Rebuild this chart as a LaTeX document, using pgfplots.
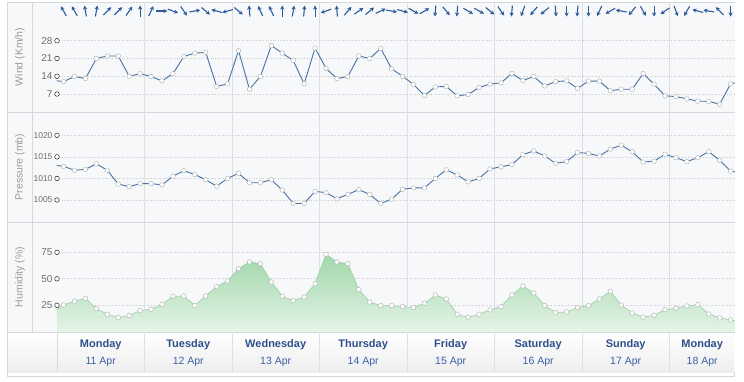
\documentclass[border=0pt]{standalone}
\usepackage{pgfplots}
\pgfplotsset{compat=1.18}
\usepackage{pgfplotstable}
\usepackage{fontspec}
\setmainfont{Liberation Sans}
\usetikzlibrary{arrows.meta}
\definecolor{panelbg}{RGB}{247,248,250}
\definecolor{gridc}{RGB}{221,223,227}
\definecolor{borderc}{RGB}{214,216,220}
\definecolor{dotc}{RGB}{200,202,206}
\definecolor{linec}{RGB}{69,114,167}
\definecolor{arrowc}{RGB}{46,90,156}
\definecolor{tickc}{RGB}{110,110,110}
\definecolor{labc}{RGB}{155,155,155}
\definecolor{dayc}{RGB}{45,80,140}
\definecolor{datec}{RGB}{58,98,167}
\definecolor{humtop}{RGB}{160,215,170}
\definecolor{humbot}{RGB}{229,244,231}
\definecolor{humline}{RGB}{150,208,160}
\definecolor{markc}{RGB}{185,185,185}

\pgfplotstableread{
x y
0 12.2
0.6 11.9
1.6 13.9
2.6 13.1
3.6 21.0
4.6 22.0
5.6 22.0
6.6 14.0
7.6 15.0
8.6 13.9
9.6 12.2
10.6 15.0
11.6 21.8
12.6 23.1
13.6 23.4
14.6 10.0
15.6 11.0
16.6 24.1
17.6 8.9
18.6 13.9
19.6 26.1
20.6 23.1
21.6 20.2
22.6 11.0
23.6 25.1
24.6 17.1
25.6 13.1
26.6 13.9
27.6 22.0
28.6 21.0
29.6 25.0
30.6 16.9
31.6 14.0
32.6 10.8
33.6 6.4
34.6 9.8
35.6 10.0
36.6 6.3
37.6 6.8
38.6 9.6
39.6 10.9
40.6 11.4
41.6 15.1
42.6 12.3
43.6 13.9
44.6 10.2
45.6 11.9
46.6 12.2
47.6 9.2
48.6 12.1
49.6 12.1
50.6 8.3
51.6 8.9
52.6 8.9
53.6 15.1
54.6 10.9
55.6 6.3
56.6 6.0
57.6 5.1
58.6 4.2
59.6 4.1
60.6 3.0
61.6 11.0
62 11.4
}\wind

\pgfplotstableread{
x y
0 1013.0
0.6 1012.8
1.6 1011.9
2.6 1012.1
3.6 1013.4
4.6 1011.9
5.6 1008.7
6.6 1008.1
7.6 1008.8
8.6 1008.8
9.6 1008.5
10.6 1010.5
11.6 1011.8
12.6 1010.9
13.6 1009.7
14.6 1008.2
15.6 1010.0
16.6 1011.2
17.6 1009.0
18.6 1009.0
19.6 1009.7
20.6 1007.3
21.6 1004.2
22.6 1004.2
23.6 1007.0
24.6 1006.7
25.6 1005.3
26.6 1006.3
27.6 1007.4
28.6 1006.3
29.6 1004.2
30.6 1005.2
31.6 1007.5
32.6 1007.8
33.6 1007.8
34.6 1010.0
35.6 1012.0
36.6 1010.8
37.6 1009.2
38.6 1010.0
39.6 1012.2
40.6 1012.7
41.6 1013.2
42.6 1015.5
43.6 1016.4
44.6 1015.2
45.6 1013.5
46.6 1013.9
47.6 1016.0
48.6 1015.8
49.6 1015.2
50.6 1016.8
51.6 1017.7
52.6 1016.2
53.6 1013.8
54.6 1014.0
55.6 1015.6
56.6 1014.8
57.6 1013.9
58.6 1014.8
59.6 1016.2
60.6 1014.2
61.6 1011.7
62 1011.5
}\press

\pgfplotstableread{
x y
0 21.2
0.6 25.3
1.6 28.8
2.6 31.6
3.6 21.9
4.6 16.5
5.6 13.4
6.6 15.3
7.6 20.0
8.6 21.2
9.6 25.9
10.6 33.5
11.6 33.8
12.6 24.7
13.6 33.8
14.6 42.6
15.6 48.0
16.6 59.6
17.6 65.9
18.6 64.3
19.6 47.0
20.6 33.5
21.6 29.4
22.6 32.9
23.6 45.4
24.6 73.1
25.6 65.9
26.6 64.3
27.6 39.9
28.6 28.0
29.6 24.7
30.6 24.7
31.6 23.7
32.6 22.8
33.6 26.9
34.6 34.7
35.6 31.0
36.6 16.5
37.6 13.7
38.6 16.5
39.6 20.6
40.6 23.7
41.6 34.7
42.6 43.2
43.6 36.6
44.6 24.7
45.6 18.1
46.6 18.7
47.6 22.8
48.6 24.7
49.6 31.0
50.6 38.2
51.6 25.3
52.6 17.8
53.6 13.7
54.6 15.6
55.6 20.9
56.6 22.2
57.6 24.4
58.6 25.6
59.6 16.8
60.6 13.1
61.6 11.2
62 10.2
}\hum

\pgfplotstableread{
x a
0.6 120
1.6 120
2.6 100
3.6 80
4.6 45
5.6 45
6.6 55
7.6 90
8.6 65
9.6 0
10.6 -20
11.6 -55
12.6 10
13.6 -40
14.6 165
15.6 195
16.6 -40
17.6 95
18.6 115
19.6 115
20.6 90
21.6 80
22.6 85
23.6 90
24.6 200
25.6 95
26.6 50
27.6 35
28.6 40
29.6 25
30.6 -10
31.6 -15
32.6 -30
33.6 30
34.6 -95
35.6 -50
36.6 -95
37.6 -30
38.6 -30
39.6 -40
40.6 -55
41.6 -95
42.6 -110
43.6 -130
44.6 -140
45.6 -85
46.6 -90
47.6 -95
48.6 -90
49.6 -115
50.6 -150
51.6 170
52.6 -130
53.6 -60
54.6 -90
55.6 -145
56.6 -70
57.6 -120
58.6 165
59.6 170
60.6 135
61.6 -90
}\dirs

\newcommand\daylab[2]{{\color{dayc}\bfseries\fontsize{11}{13}\selectfont #1}\\[5pt]{\color{datec}\fontsize{10.5}{13}\selectfont #2}}

\pgfplotsset{
  panel/.style={
    scale only axis, width=678pt, height=110pt,
    anchor=south west,
    xmin=0, xmax=62,
    axis line style={draw=none},
    major tick length=0pt,
    xtick={8,16,...,56}, xticklabels={},
    xmajorgrids,
    major x grid style={draw=gridc, line width=0.8pt},
    ymajorgrids,
    major y grid style={draw=dotc, dotted, line width=0.7pt},
    yticklabel style={font=\fontsize{10}{12}\selectfont, text=tickc, xshift=-1pt},
    ylabel style={font=\fontsize{10.5}{12}\selectfont, text=labc, at={(axis description cs:-0.0546,0.5)}, anchor=center},
    clip=false,
    /pgf/number format/assume math mode=true,
    /pgf/number format/1000 sep={},
  },
  dataline/.style={draw=linec, line width=0.9pt, no marks},
  datamarks/.style={only marks, mark=*, mark size=2.3pt, mark options={fill=white, draw=markc, line width=0.5pt}, restrict x to domain=0.3:61.9},
  tickdots/.style={only marks, mark=*, mark size=2.3pt, mark options={fill=white, draw=none}},
}

\begin{document}
\begin{tikzpicture}
% backgrounds and frame
\fill[panelbg] (7pt,-2pt) rectangle (735pt,-332pt);
\shade[top color=white, bottom color={rgb,255:red,238;green,238;blue,238}] (7pt,-332pt) rectangle (734pt,-372pt);
\draw[borderc, line width=0.8pt] (7pt,-2pt) -- (735pt,-2pt);
\draw[borderc, line width=0.8pt] (7pt,-112pt) -- (735pt,-112pt);
\draw[borderc, line width=0.8pt] (7pt,-222pt) -- (735pt,-222pt);
\draw[borderc, line width=0.8pt] (7pt,-332pt) -- (735pt,-332pt);
\draw[borderc, line width=0.8pt] (32pt,-2pt) -- (32pt,-332pt);
\draw[borderc, line width=0.8pt] (57pt,-332pt) -- (57pt,-372pt);
\draw[borderc, line width=0.8pt] (7pt,-2pt) -- (7pt,-376pt) -- (734pt,-376pt) -- (734pt,-372pt);

% Wind
\begin{axis}[panel, at={(57pt,-112pt)},
  ymin=-0.08, ymax=43.26, ytick={7,14,21,28},
  ylabel={Wind (Km/h)}]
\addplot[dataline] table {\wind};
\addplot[datamarks] table {\wind};
\addplot[tickdots] coordinates {(0,7) (0,14) (0,21) (0,28)};
\addplot[draw=arrowc, line width=1.1pt, -{Stealth[length=4pt,width=4.2pt]},
  quiver={u={1.006*cos(\thisrow{a})}, v={4.33*sin(\thisrow{a})}}]
  table[x expr={\thisrow{x}-0.503*cos(\thisrow{a})}, y expr={39.7-2.165*sin(\thisrow{a})}] {\dirs};
\end{axis}

% Pressure
\begin{axis}[panel, at={(57pt,-222pt)},
  ymin=999.9, ymax=1025.4, ytick={1005,1010,1015,1020},
  yticklabel style={font=\fontsize{8.5}{10}\selectfont},
  ylabel={Pressure (mb)}]
\addplot[dataline] table {\press};
\addplot[datamarks] table {\press};
\addplot[tickdots] coordinates {(0,1005) (0,1010) (0,1015) (0,1020)};
\end{axis}

% Humidity
\begin{axis}[panel, at={(57pt,-332pt)},
  ymin=-0.2, ymax=103.6, ytick={25,50,75},
  ylabel={Humidity (\%)}]
\addplot[draw=none, top color=humtop, bottom color=humbot] table {\hum} \closedcycle;
\addplot[draw=humline, line width=0.6pt, no marks] table {\hum};
\addplot[datamarks] table {\hum};
\addplot[tickdots] coordinates {(0,25) (0,50) (0,75)};
\end{axis}

% Date row
\begin{axis}[scale only axis, width=678pt, height=40pt, at={(57pt,-372pt)}, anchor=south west,
  xmin=0, xmax=62, ymin=0, ymax=1,
  axis line style={draw=none}, major tick length=0pt,
  xtick={8,16,...,56}, xticklabels={}, ytick=\empty,
  xmajorgrids, major x grid style={draw=gridc, line width=0.8pt},
  extra x ticks={4,12,20,28,36,44,52,59},
  extra x tick labels={{\daylab{Monday}{11 Apr}},{\daylab{Tuesday}{12 Apr}},{\daylab{Wednesday}{13 Apr}},{\daylab{Thursday}{14 Apr}},{\daylab{Friday}{15 Apr}},{\daylab{Saturday}{16 Apr}},{\daylab{Sunday}{17 Apr}},{\daylab{Monday}{18 Apr}}},
  extra x tick style={grid=none, xticklabel style={anchor=center, yshift=19pt, align=center}},
  clip=false]
\addplot[draw=none] coordinates {(0,0) (62,1)};
\end{axis}

\pgfresetboundingbox
\useasboundingbox (0pt,0pt) rectangle (744pt,-382pt);
\end{tikzpicture}
\end{document}
